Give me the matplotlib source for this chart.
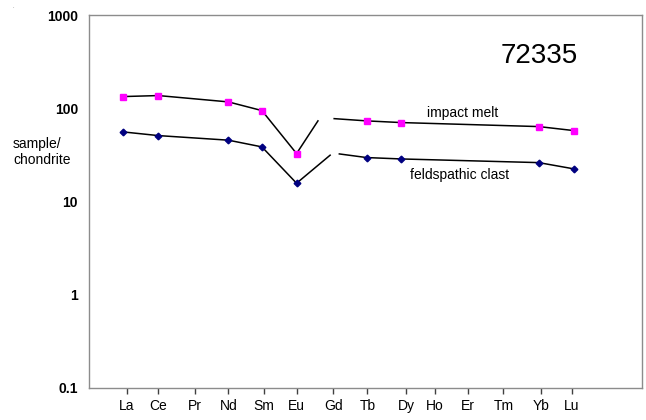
import numpy as np
import matplotlib.pyplot as plt

plt.rcParams['font.family'] = ['Liberation Sans', 'DejaVu Sans']

# REE labels and where they sit along the bottom axis
elements = ['La', 'Ce', 'Pr', 'Nd', 'Sm', 'Eu', 'Gd', 'Tb', 'Dy', 'Ho', 'Er', 'Tm', 'Yb', 'Lu']
tick_x = [1.02, 1.88, 2.87, 3.78, 4.75, 5.63, 6.63, 7.55, 8.60, 9.38, 10.29, 11.24, 12.25, 13.09]

# measured elements (Pr, Gd, Ho, Er, Tm not analysed)
meas = ['La', 'Ce', 'Nd', 'Sm', 'Eu', 'Tb', 'Dy', 'Yb', 'Lu']
meas_x = [0.92, 1.88, 3.78, 4.69, 5.63, 7.53, 8.46, 12.20, 13.16]
melt = [134.6, 138.0, 118.0, 95.2, 32.9, 73.8, 70.8, 64.1, 58.0]
clast = [56.2, 51.3, 45.8, 38.8, 15.8, 29.8, 28.8, 26.3, 22.5]

# hand-drawn ends of the broken line either side of Gd
melt_gap_x = [6.21, 6.65]
melt_gap_y = [73.8, 78.0]
clast_gap_x = [6.54, 6.79]
clast_gap_y = [31.6, 32.6]

fig = plt.figure(figsize=(6.46, 4.2), dpi=100)
ax = fig.add_axes([0.1378, 0.0762, 0.856, 0.887])
ax.set_yscale('log')
ax.set_xlim(0, 15)
ax.set_ylim(0.1, 1000)

for vals, gx, gy in [(melt, melt_gap_x, melt_gap_y), (clast, clast_gap_x, clast_gap_y)]:
    ax.plot(meas_x[:5] + [gx[0]], vals[:5] + [gy[0]], color='black', lw=1.1, zorder=2)
    ax.plot([gx[1]] + meas_x[5:], [gy[1]] + vals[5:], color='black', lw=1.1, zorder=2)

ax.plot(meas_x, melt, ls='none', marker='s', ms=4.6, color='#FF00FF', zorder=3)
ax.plot(meas_x, clast, ls='none', marker='D', ms=3.4, color='#000080', zorder=3)

ax.text(10.14, 90.6, 'impact melt', ha='center', va='center', fontsize=10)
ax.text(10.04, 19.4, 'feldspathic clast', ha='center', va='center', fontsize=10)
ax.text(12.2, 368, '72335', ha='center', va='center', fontsize=20)

ax.set_xticks(tick_x)
ax.set_xticklabels(elements, fontsize=10)
ax.tick_params(axis='x', direction='out', length=4, width=1, color='#404040', pad=4)
ax.set_yticks([0.1, 1, 10, 100, 1000])
ax.set_yticklabels(['0.1', '1', '10', '100', '1000'], fontsize=10, fontweight='bold')
ax.yaxis.set_minor_locator(plt.NullLocator())
ax.tick_params(axis='y', length=0, pad=8)

for s in ax.spines.values():
    s.set_color('#8c8c8c')
    s.set_linewidth(1)

fig.text(13 / 646, 1 - 152 / 420, 'sample/\nchondrite', ha='left', va='center',
         fontsize=10, linespacing=1.1)
fig.text(13 / 646, 1 - 6 / 420, '.', ha='center', va='center', fontsize=4, color='#606060')

fig.savefig('out.png', dpi=100)
